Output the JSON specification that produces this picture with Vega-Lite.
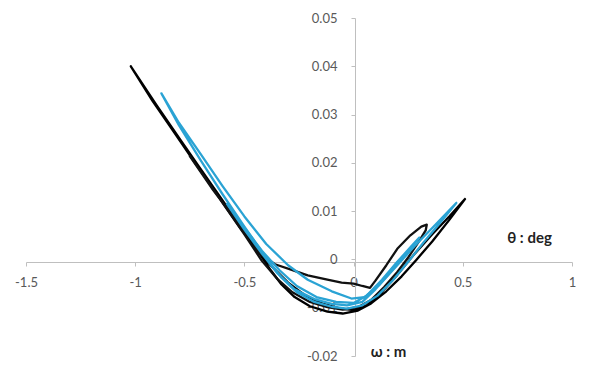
{
  "$schema": "https://vega.github.io/schema/vega-lite/v6.json",
  "width": 546,
  "height": 338,
  "autosize": {"type": "none"},
  "padding": {"left": 26, "top": 18, "right": 25, "bottom": 10},
  "background": "white",
  "config": {"view": {"stroke": null}, "font": "Lato"},
  "data": {"values": [
    {"run": "A", "order": 1, "theta": 0.51, "omega": 0.0125},
    {"run": "A", "order": 2, "theta": 0.44, "omega": 0.0083},
    {"run": "A", "order": 3, "theta": 0.36, "omega": 0.0037},
    {"run": "A", "order": 4, "theta": 0.285, "omega": -0.0002},
    {"run": "A", "order": 5, "theta": 0.22, "omega": -0.0035},
    {"run": "A", "order": 6, "theta": 0.15, "omega": -0.0066},
    {"run": "A", "order": 7, "theta": 0.08, "omega": -0.0091},
    {"run": "A", "order": 8, "theta": 0.02, "omega": -0.0106},
    {"run": "A", "order": 9, "theta": -0.05, "omega": -0.0112},
    {"run": "A", "order": 10, "theta": -0.12, "omega": -0.0108},
    {"run": "A", "order": 11, "theta": -0.2, "omega": -0.0097},
    {"run": "A", "order": 12, "theta": -0.27, "omega": -0.0078},
    {"run": "A", "order": 13, "theta": -0.33, "omega": -0.0052},
    {"run": "A", "order": 14, "theta": -0.38, "omega": -0.0022},
    {"run": "A", "order": 15, "theta": -0.42, "omega": 0.0005},
    {"run": "A", "order": 16, "theta": -0.5, "omega": 0.0057},
    {"run": "A", "order": 17, "theta": -0.6, "omega": 0.0122},
    {"run": "A", "order": 18, "theta": -0.7, "omega": 0.0187},
    {"run": "A", "order": 19, "theta": -0.8, "omega": 0.0252},
    {"run": "A", "order": 20, "theta": -0.9, "omega": 0.0318},
    {"run": "A", "order": 21, "theta": -1.02, "omega": 0.04},
    {"run": "A", "order": 22, "theta": -0.92, "omega": 0.0328},
    {"run": "A", "order": 23, "theta": -0.82, "omega": 0.0262},
    {"run": "A", "order": 24, "theta": -0.72, "omega": 0.0196},
    {"run": "A", "order": 25, "theta": -0.62, "omega": 0.0131},
    {"run": "A", "order": 26, "theta": -0.52, "omega": 0.0066},
    {"run": "A", "order": 27, "theta": -0.45, "omega": 0.0024},
    {"run": "A", "order": 28, "theta": -0.38, "omega": -0.0012},
    {"run": "A", "order": 29, "theta": -0.3, "omega": -0.0048},
    {"run": "A", "order": 30, "theta": -0.22, "omega": -0.0075},
    {"run": "A", "order": 31, "theta": -0.14, "omega": -0.0092},
    {"run": "A", "order": 32, "theta": -0.06, "omega": -0.0102},
    {"run": "A", "order": 33, "theta": 0.0, "omega": -0.0105},
    {"run": "A", "order": 34, "theta": 0.06, "omega": -0.0095},
    {"run": "A", "order": 35, "theta": 0.12, "omega": -0.0072},
    {"run": "A", "order": 36, "theta": 0.2, "omega": -0.0032},
    {"run": "A", "order": 37, "theta": 0.28, "omega": 0.0012},
    {"run": "A", "order": 38, "theta": 0.36, "omega": 0.0052},
    {"run": "A", "order": 39, "theta": 0.44, "omega": 0.009},
    {"run": "A", "order": 40, "theta": 0.51, "omega": 0.0125},

    {"run": "B", "order": 1, "theta": -0.75, "omega": 0.0214},
    {"run": "B", "order": 2, "theta": -0.65, "omega": 0.0148},
    {"run": "B", "order": 3, "theta": -0.55, "omega": 0.0088},
    {"run": "B", "order": 4, "theta": -0.47, "omega": 0.0043},
    {"run": "B", "order": 5, "theta": -0.435, "omega": 0.0014},
    {"run": "B", "order": 6, "theta": -0.36, "omega": -0.001},
    {"run": "B", "order": 7, "theta": -0.28, "omega": -0.0022},
    {"run": "B", "order": 8, "theta": -0.21, "omega": -0.0033},
    {"run": "B", "order": 9, "theta": -0.12, "omega": -0.0042},
    {"run": "B", "order": 10, "theta": -0.055, "omega": -0.0048},
    {"run": "B", "order": 11, "theta": 0.0, "omega": -0.005},
    {"run": "B", "order": 12, "theta": 0.04, "omega": -0.0055},
    {"run": "B", "order": 13, "theta": 0.075, "omega": -0.0059},
    {"run": "B", "order": 14, "theta": 0.1, "omega": -0.0044},
    {"run": "B", "order": 15, "theta": 0.15, "omega": -0.0012},
    {"run": "B", "order": 16, "theta": 0.2, "omega": 0.0022},
    {"run": "B", "order": 17, "theta": 0.26, "omega": 0.005},
    {"run": "B", "order": 18, "theta": 0.31, "omega": 0.0068},
    {"run": "B", "order": 19, "theta": 0.335, "omega": 0.0072},
    {"run": "B", "order": 20, "theta": 0.33, "omega": 0.006},
    {"run": "B", "order": 21, "theta": 0.3, "omega": 0.0038},
    {"run": "B", "order": 22, "theta": 0.25, "omega": 0.0004},
    {"run": "B", "order": 23, "theta": 0.2, "omega": -0.0026},
    {"run": "B", "order": 24, "theta": 0.14, "omega": -0.0057},
    {"run": "B", "order": 25, "theta": 0.08, "omega": -0.0084},
    {"run": "B", "order": 26, "theta": 0.02, "omega": -0.0099},
    {"run": "B", "order": 27, "theta": -0.05, "omega": -0.0104},
    {"run": "B", "order": 28, "theta": -0.12, "omega": -0.0099},
    {"run": "B", "order": 29, "theta": -0.2, "omega": -0.0088},
    {"run": "B", "order": 30, "theta": -0.28, "omega": -0.0068},
    {"run": "B", "order": 31, "theta": -0.35, "omega": -0.004},
    {"run": "B", "order": 32, "theta": -0.42, "omega": -0.0003},
    {"run": "B", "order": 33, "theta": -0.5, "omega": 0.0052},
    {"run": "B", "order": 34, "theta": -0.6, "omega": 0.0117},
    {"run": "B", "order": 35, "theta": -0.7, "omega": 0.0182},

    {"run": "C", "order": 1, "theta": 0.47, "omega": 0.0117},
    {"run": "C", "order": 2, "theta": 0.4, "omega": 0.0078},
    {"run": "C", "order": 3, "theta": 0.32, "omega": 0.0035},
    {"run": "C", "order": 4, "theta": 0.25, "omega": -0.0005},
    {"run": "C", "order": 5, "theta": 0.18, "omega": -0.0043},
    {"run": "C", "order": 6, "theta": 0.11, "omega": -0.0075},
    {"run": "C", "order": 7, "theta": 0.04, "omega": -0.0095},
    {"run": "C", "order": 8, "theta": -0.03, "omega": -0.0102},
    {"run": "C", "order": 9, "theta": -0.1, "omega": -0.0098},
    {"run": "C", "order": 10, "theta": -0.18, "omega": -0.0088},
    {"run": "C", "order": 11, "theta": -0.26, "omega": -0.0068},
    {"run": "C", "order": 12, "theta": -0.33, "omega": -0.0038},
    {"run": "C", "order": 13, "theta": -0.4, "omega": 0.0003},
    {"run": "C", "order": 14, "theta": -0.5, "omega": 0.0068},
    {"run": "C", "order": 15, "theta": -0.6, "omega": 0.0135},
    {"run": "C", "order": 16, "theta": -0.7, "omega": 0.0205},
    {"run": "C", "order": 17, "theta": -0.8, "omega": 0.0278},
    {"run": "C", "order": 18, "theta": -0.88, "omega": 0.0344},
    {"run": "C", "order": 19, "theta": -0.8, "omega": 0.0283},
    {"run": "C", "order": 20, "theta": -0.7, "omega": 0.0218},
    {"run": "C", "order": 21, "theta": -0.6, "omega": 0.0152},
    {"run": "C", "order": 22, "theta": -0.5, "omega": 0.0089},
    {"run": "C", "order": 23, "theta": -0.4, "omega": 0.0032},
    {"run": "C", "order": 24, "theta": -0.3, "omega": -0.0012},
    {"run": "C", "order": 25, "theta": -0.21, "omega": -0.0042},
    {"run": "C", "order": 26, "theta": -0.1, "omega": -0.0066},
    {"run": "C", "order": 27, "theta": -0.01, "omega": -0.0081},
    {"run": "C", "order": 28, "theta": 0.05, "omega": -0.0078},
    {"run": "C", "order": 29, "theta": 0.12, "omega": -0.0052},
    {"run": "C", "order": 30, "theta": 0.2, "omega": -0.0012},
    {"run": "C", "order": 31, "theta": 0.28, "omega": 0.0028},
    {"run": "C", "order": 32, "theta": 0.36, "omega": 0.0065},
    {"run": "C", "order": 33, "theta": 0.47, "omega": 0.0117},

    {"run": "D", "order": 1, "theta": 0.3, "omega": 0.0045},
    {"run": "D", "order": 2, "theta": 0.24, "omega": 0.0012},
    {"run": "D", "order": 3, "theta": 0.17, "omega": -0.0025},
    {"run": "D", "order": 4, "theta": 0.1, "omega": -0.0062},
    {"run": "D", "order": 5, "theta": 0.04, "omega": -0.0088},
    {"run": "D", "order": 6, "theta": -0.03, "omega": -0.0095},
    {"run": "D", "order": 7, "theta": -0.1, "omega": -0.0092},
    {"run": "D", "order": 8, "theta": -0.18, "omega": -0.0082},
    {"run": "D", "order": 9, "theta": -0.27, "omega": -0.0062},
    {"run": "D", "order": 10, "theta": -0.35, "omega": -0.0028},
    {"run": "D", "order": 11, "theta": -0.42, "omega": 0.0012},
    {"run": "D", "order": 12, "theta": -0.5, "omega": 0.0062},
    {"run": "D", "order": 13, "theta": -0.58, "omega": 0.0115},
    {"run": "D", "order": 14, "theta": -0.5, "omega": 0.0066},
    {"run": "D", "order": 15, "theta": -0.42, "omega": 0.0018},
    {"run": "D", "order": 16, "theta": -0.34, "omega": -0.0022},
    {"run": "D", "order": 17, "theta": -0.26, "omega": -0.0055},
    {"run": "D", "order": 18, "theta": -0.17, "omega": -0.0078},
    {"run": "D", "order": 19, "theta": -0.08, "omega": -0.0088},
    {"run": "D", "order": 20, "theta": 0.0, "omega": -0.009},
    {"run": "D", "order": 21, "theta": 0.06, "omega": -0.0075},
    {"run": "D", "order": 22, "theta": 0.13, "omega": -0.0042},
    {"run": "D", "order": 23, "theta": 0.2, "omega": -0.0005},
    {"run": "D", "order": 24, "theta": 0.26, "omega": 0.0025},
    {"run": "D", "order": 25, "theta": 0.3, "omega": 0.0045}
  ]},
  "mark": {"type": "line", "strokeWidth": 2.3, "strokeJoin": "round", "strokeCap": "round", "clip": false},
  "encoding": {
    "x": {
      "field": "theta", "type": "quantitative",
      "scale": {"domain": [-1.5, 1], "nice": false, "zero": false},
      "axis": {
        "values": [-1.5, -1, -0.5, 0, 0.5, 1],
        "format": "~g",
        "labelExpr": "replace(datum.label, '−', '-')",
        "offset": -94,
        "grid": false,
        "domainColor": "#bfbfbf", "tickColor": "#bfbfbf", "tickSize": 4,
        "labelPadding": 10, "labelFontSize": 13, "labelColor": "#595959", "labelFont": "Lato",
        "labelFlush": false, "labelOverlap": false,
        "title": "θ : deg", "titleFont": "Lato", "titleFontSize": 15, "titleFontWeight": "bold", "titleColor": "#222222",
        "titleX": 503, "titleY": -25, "titleAlign": "center", "titleBaseline": "middle"
      }
    },
    "y": {
      "field": "omega", "type": "quantitative",
      "scale": {"domain": [-0.02, 0.05], "nice": false, "zero": false},
      "axis": {
        "values": [-0.02, -0.01, 0, 0.01, 0.02, 0.03, 0.04, 0.05],
        "format": "~g",
        "labelExpr": "replace(datum.label, '−', '-')",
        "offset": -329,
        "grid": false,
        "domainColor": "#bfbfbf", "tickColor": "#bfbfbf", "tickSize": 4,
        "labelPadding": 14, "labelFontSize": 13, "labelColor": "#595959", "labelFont": "Lato",
        "labelFlush": false, "labelOverlap": false,
        "title": "ω : m", "titleFont": "Lato", "titleFontSize": 15, "titleFontWeight": "bold", "titleColor": "#222222",
        "titleAngle": 0, "titleX": 33, "titleY": 333, "titleAlign": "center", "titleBaseline": "middle"
      }
    },
    "color": {
      "field": "run", "type": "nominal",
      "scale": {"domain": ["A", "B", "C", "D"], "range": ["#000000", "#111111", "#2aa3d4", "#2aa3d4"]},
      "legend": null
    },
    "detail": {"field": "run"},
    "order": {"field": "order", "type": "quantitative"}
  }
}
